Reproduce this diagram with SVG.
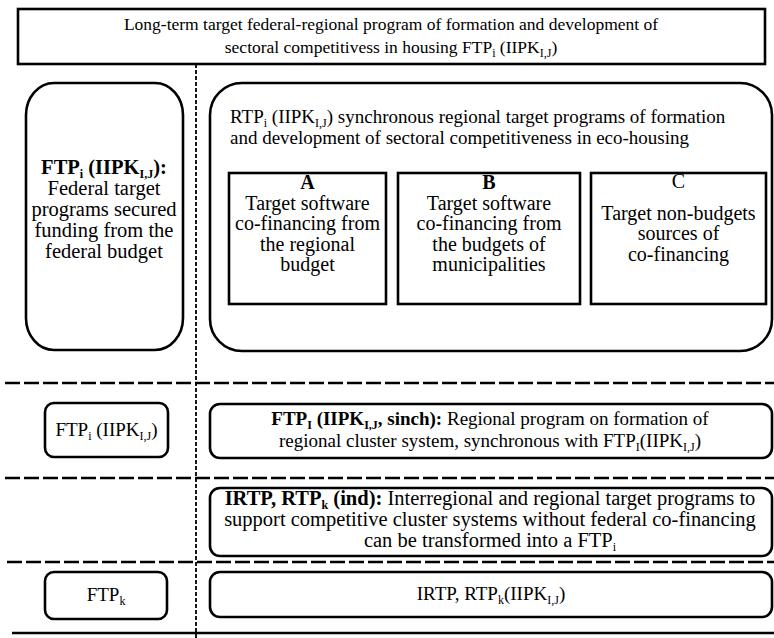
<svg xmlns="http://www.w3.org/2000/svg" width="774" height="638" viewBox="0 0 774 638" font-family="Liberation Serif, DejaVu Serif, serif">
<style>
text{font-family:"Liberation Serif","DejaVu Serif",serif;font-size:19px;fill:#000}
.c{text-anchor:middle}
.b{font-weight:bold}
.s{font-size:12px}
.l{font-size:20.5px}
.m{font-size:20px}
.box{fill:#fff;stroke:#000;stroke-width:2.6}
.hd{stroke:#000;stroke-width:2.5;stroke-dasharray:15 4;fill:none}
.vd{stroke:#000;stroke-width:1.8;stroke-dasharray:4 2;fill:none}
.sol{stroke:#000;stroke-width:2.5;fill:none}
</style>
<rect width="774" height="638" fill="#fff"/>
<g id="connectors">
<line class="vd" x1="196" y1="64" x2="196" y2="638"/>
<line class="hd" x1="5" y1="383" x2="774" y2="383"/>
<line class="hd" x1="5" y1="478" x2="774" y2="478"/>
<line class="hd" x1="7" y1="562" x2="774" y2="562"/>
<line class="sol" x1="12" y1="633" x2="774" y2="633"/>
</g>
<g id="top">
<rect class="box" x="18" y="9" width="747" height="55"/>
<text class="c" x="391" y="30" style="font-size:17.5px">Long-term target federal-regional program of formation and development of</text>
<text class="c" x="391" y="53" style="font-size:17.5px">sectoral competitivess in housing FTP<tspan class="s" dy="4">i</tspan><tspan dy="-4"> (IIPK</tspan><tspan class="s" dy="4">I,J</tspan><tspan dy="-4">)</tspan></text>
</g>
<g id="ftp-federal">
<rect class="box" x="26" y="83" width="157" height="267" rx="28" ry="32"/>
<text class="c b l" x="104" y="174">FTP<tspan class="s" dy="4">i</tspan><tspan dy="-4"> (IIPK</tspan><tspan class="s" dy="4">I,J</tspan><tspan dy="-4">):</tspan></text>
<text class="c l" x="104" y="195">Federal target</text>
<text class="c l" x="104" y="216">programs secured</text>
<text class="c l" x="104" y="237">funding from the</text>
<text class="c l" x="104" y="258">federal budget</text>
</g>
<g id="rtp">
<rect class="box" x="210" y="83" width="562" height="268" rx="32" ry="32"/>
<text x="230" y="123">RTP<tspan class="s" dy="4">i</tspan><tspan dy="-4"> (IIPK</tspan><tspan class="s" dy="4">I,J</tspan><tspan dy="-4">) synchronous regional target programs of formation</tspan></text>
<text x="230" y="144">and development of sectoral competitiveness in eco-housing</text>
</g>
<g id="box-a">
<rect class="box" x="229" y="173" width="157" height="131"/>
<text class="c b m" x="307.5" y="189">A</text>
<text class="c m" x="307.5" y="209.5">Target software</text>
<text class="c m" x="307.5" y="230">co-financing from</text>
<text class="c m" x="307.5" y="250.5">the regional</text>
<text class="c m" x="307.5" y="271">budget</text>
</g>
<g id="box-b">
<rect class="box" x="398" y="173" width="182" height="131"/>
<text class="c b m" x="489" y="189">B</text>
<text class="c m" x="489" y="209.5">Target software</text>
<text class="c m" x="489" y="230">co-financing from</text>
<text class="c m" x="489" y="250.5">the budgets of</text>
<text class="c m" x="489" y="271">municipalities</text>
</g>
<g id="box-c">
<rect class="box" x="591" y="173" width="175" height="131"/>
<text class="c m" x="678.5" y="188">C</text>
<text class="c m" x="678.5" y="219.5">Target non-budgets</text>
<text class="c m" x="678.5" y="240">sources of</text>
<text class="c m" x="678.5" y="260.5">co-financing</text>
</g>
<g id="ftp-row2">
<rect class="box" x="45" y="403" width="123" height="54" rx="9"/>
<text class="c" x="106.5" y="436">FTP<tspan class="s" dy="4">i</tspan><tspan dy="-4"> (IIPK</tspan><tspan class="s" dy="4">I,J</tspan><tspan dy="-4">)</tspan></text>
</g>
<g id="sinch">
<rect class="box" x="210" y="404" width="562" height="54" rx="10"/>
<text class="c" x="490" y="425"><tspan class="b">FTP</tspan><tspan class="s b" dy="4">I</tspan><tspan class="b" dy="-4"> (IIPK</tspan><tspan class="s b" dy="4">I,J</tspan><tspan class="b" dy="-4">, sinch):</tspan> Regional program on formation of</text>
<text class="c" x="490" y="447">regional cluster system, synchronous with FTP<tspan class="s" dy="4">I</tspan><tspan dy="-4">(IIPK</tspan><tspan class="s" dy="4">I,J</tspan><tspan dy="-4">)</tspan></text>
</g>
<g id="irtp-ind">
<rect class="box" x="210" y="488" width="562" height="68" rx="10"/>
<text class="c" x="490" y="505" style="font-size:20.5px"><tspan class="b">IRTP, RTP</tspan><tspan class="s b" dy="4">k</tspan><tspan class="b" dy="-4"> (ind):</tspan> Interregional and regional target programs to</text>
<text class="c" x="490" y="526" style="font-size:20.5px">support competitive cluster systems without federal co-financing</text>
<text class="c" x="490" y="547" style="font-size:20.5px">can be transformed into a FTP<tspan class="s" dy="4">i</tspan></text>
</g>
<g id="ftp-k">
<rect class="box" x="45" y="572" width="122" height="47" rx="9"/>
<text class="c" x="106" y="601">FTP<tspan class="s" dy="4">k</tspan></text>
</g>
<g id="irtp-k">
<rect class="box" x="210" y="572" width="562" height="45" rx="10"/>
<text class="c" x="491" y="600">IRTP, RTP<tspan class="s" dy="4">k</tspan><tspan dy="-4">(IIPK</tspan><tspan class="s" dy="4">I,J</tspan><tspan dy="-4">)</tspan></text>
</g>
</svg>
